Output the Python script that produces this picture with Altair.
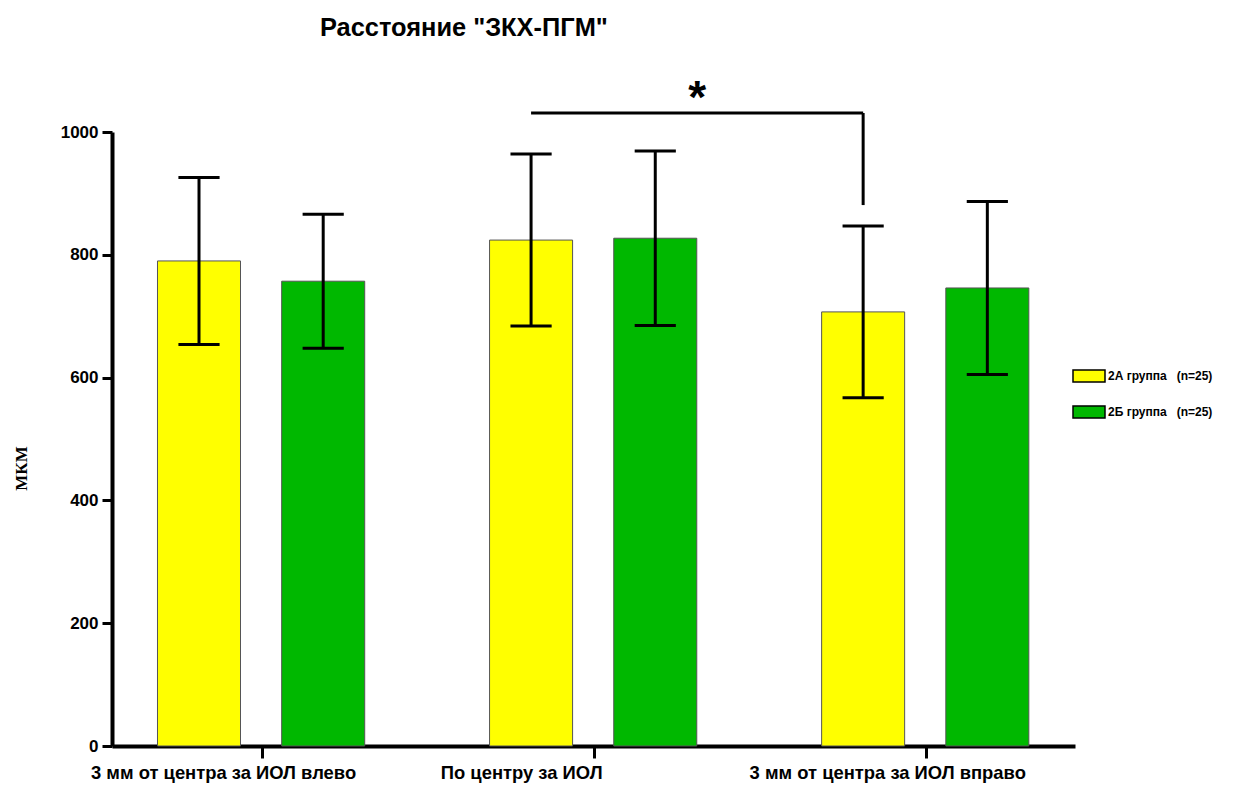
import altair as alt
import pandas as pd

categories = ["3 мм от центра за ИОЛ влево", "По центру за ИОЛ", "3 мм от центра за ИОЛ вправо"]
groups = ["2А группа\u00a0\u00a0\u00a0(n=25)", "2Б группа\u00a0\u00a0\u00a0(n=25)"]
mean_2a = [790, 824, 707]
sd_2a = [136, 140, 140]
mean_2b = [757, 827, 746]
sd_2b = [109, 142, 141]
colors = ["#FFFF00", "#00B800"]
y_ticks = [0, 200, 400, 600, 800, 1000]

# significance bracket: between 2А bars of categories 2 and 3
sig_from = [1]
sig_to = [2]
sig_top = [1031]
sig_drop = [881]
sig_label = ["*"]

rows = []
for i, c in enumerate(categories):
    rows.append({"idx": i, "category": c, "group": groups[0], "mean": mean_2a[i], "sd": sd_2a[i]})
    rows.append({"idx": i, "category": c, "group": groups[1], "mean": mean_2b[i], "sd": sd_2b[i]})
df = pd.DataFrame(rows)

sig_df = pd.DataFrame({"a": sig_from, "b": sig_to, "top": sig_top, "drop": sig_drop, "label": sig_label})

FONT = "Liberation Sans"
xscale = alt.Scale(domain=[-0.452, 2.448], nice=False, zero=False)
yscale = alt.Scale(domain=[0, 1000], nice=False)

label_expr = "[" + ",".join("'" + c + "'" for c in categories) + "][datum.value]"

base = alt.Chart(df).transform_calculate(
    off=f"datum.group == '{groups[0]}' ? -0.19 : 0.184",
).transform_calculate(
    xc="datum.idx + datum.off",
).transform_calculate(
    x0="datum.xc - 0.125",
    x1="datum.xc + 0.125",
    c0="datum.xc - 0.062",
    c1="datum.xc + 0.062",
    lo="datum.mean - datum.sd",
    hi="datum.mean + datum.sd",
)

bars = base.mark_bar(stroke="#555555", strokeWidth=1).encode(
    x=alt.X("x0:Q", scale=xscale, axis=alt.Axis(
        values=[0, 1, 2], labelExpr=label_expr, title=None, grid=False,
        domainColor="black", domainWidth=4, tickColor="black", tickWidth=3, tickSize=12,
        labelFont=FONT, labelFontSize=18.4, labelFontWeight="bold", labelColor="black",
        labelPadding=5, labelFlush=False, labelLimit=0, labelOverlap=False,
        labelOffset={"condition": {"test": "datum.value == 1", "value": -73}, "value": -39})),
    x2="x1:Q",
    y=alt.Y("mean:Q", scale=yscale, axis=alt.Axis(
        values=y_ticks, format="d", title="МКМ", grid=False,
        domainColor="black", domainWidth=4, tickColor="black", tickWidth=3, tickSize=10,
        labelFont=FONT, labelFontSize=17, labelFontWeight="bold", labelColor="black",
        labelPadding=4, titleFont="Liberation Serif", titleFontSize=17, titleFontWeight="bold",
        titleColor="black", titleX=-82, titleY=336)),
    y2=alt.datum(0),
    color=alt.Color("group:N", scale=alt.Scale(domain=groups, range=colors), legend=alt.Legend(
        title=None, orient="none", legendX=960, legendY=227,
        symbolType="M-1,-0.38L1,-0.38L1,0.38L-1,0.38Z", symbolSize=1024,
        symbolStrokeColor="black", symbolStrokeWidth=1.5,
        labelFont=FONT, labelFontSize=12, labelFontWeight="bold", labelColor="black",
        rowPadding=9, labelOffset=2)),
)

err = base.mark_rule(color="black", strokeWidth=3).encode(
    x=alt.X("xc:Q", scale=xscale), y=alt.Y("lo:Q", scale=yscale), y2="hi:Q")
cap_hi = base.mark_rule(color="black", strokeWidth=3).encode(
    x=alt.X("c0:Q", scale=xscale), x2="c1:Q", y=alt.Y("hi:Q", scale=yscale))
cap_lo = base.mark_rule(color="black", strokeWidth=3).encode(
    x=alt.X("c0:Q", scale=xscale), x2="c1:Q", y=alt.Y("lo:Q", scale=yscale))

sig = alt.Chart(sig_df).transform_calculate(
    xa="datum.a - 0.19", xb="datum.b - 0.19",
).transform_calculate(xm="(datum.xa + datum.xb) / 2", ty="datum.top + 40")

sig_h = sig.mark_rule(color="black", strokeWidth=3).encode(
    x=alt.X("xa:Q", scale=xscale), x2="xb:Q", y=alt.Y("top:Q", scale=yscale))
sig_v = sig.mark_rule(color="black", strokeWidth=3).encode(
    x=alt.X("xb:Q", scale=xscale), y=alt.Y("drop:Q", scale=yscale), y2="top:Q")
sig_t = sig.mark_text(font=FONT, fontSize=46, fontWeight="bold", color="black", baseline="middle", dy=11).encode(
    x=alt.X("xm:Q", scale=xscale), y=alt.Y("ty:Q", scale=yscale), text="label:N")

chart = alt.layer(bars, err, cap_hi, cap_lo, sig_h, sig_v, sig_t).properties(
    width=963, height=614,
    title=alt.TitleParams('Расстояние "ЗКХ-ПГМ"', anchor="start", frame="group", dx=208,
                          font=FONT, fontSize=25.4, fontWeight="bold", color="black", offset=35),
    autosize=alt.AutoSizeParams(type="none"),
    padding={"left": 104, "top": 124, "right": 151, "bottom": 40},
).configure_view(stroke=None)

chart.save("out.html", embed_options={"renderer": "svg", "actions": False})
